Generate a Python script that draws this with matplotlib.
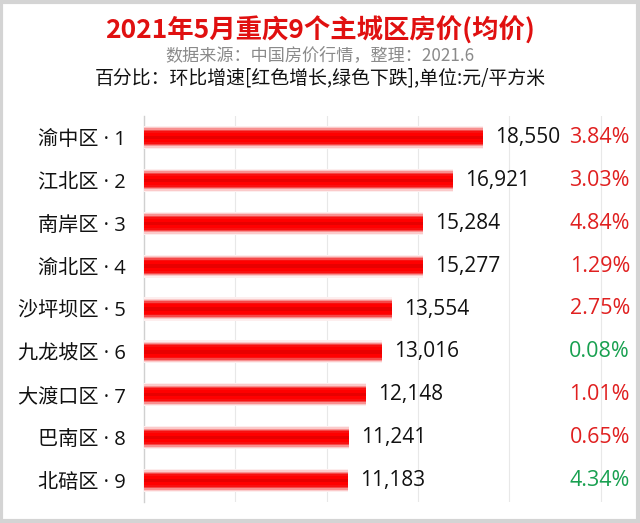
import matplotlib
matplotlib.use("Agg")
import matplotlib.pyplot as plt
import numpy as np
from matplotlib.patches import Rectangle

plt.rcParams['font.family'] = ['Noto Sans CJK SC', 'DejaVu Sans']

districts = ["渝中区", "江北区", "南岸区", "渝北区", "沙坪坝区", "九龙坡区", "大渡口区", "巴南区", "北碚区"]
prices = [18550, 16921, 15284, 15277, 13554, 13016, 12148, 11241, 11183]
changes = ["3.84%", "3.03%", "4.84%", "1.29%", "2.75%", "0.08%", "1.01%", "0.65%", "4.34%"]
change_up = [True, True, True, True, True, False, True, True, False]

title = "2021年5月重庆9个主城区房价(均价)"
subtitle = "数据来源：中国房价行情，整理：2021.6"
note = "百分比：环比增速[红色增长,绿色下跌],单位:元/平方米"

fig = plt.figure(figsize=(6.4, 5.23), dpi=100)
ax = fig.add_axes([144/640, 1-502/523, (632-144)/640, (502-116)/523])

n = len(districts)
ypos = np.arange(n)
xmax = (632-144)/((483-144)/18550)
ax.set_xlim(0, xmax)
ax.set_ylim(n-0.5, -0.5)

# glossy bar: stacked layers (cylinder-like gradient)
layers = [(0.54, "#fdeeee"), (0.48, "#fbcaca"), (0.42, "#f89090"), (0.36, "#f54848"),
          (0.30, "#f81010"), (0.22, "#ff0000"), (0.08, "#e80000")]
for y, v in zip(ypos, prices):
    for h, c in layers:
        ax.barh(y, v, height=h, left=0, color=c, linewidth=0, zorder=3)

num_font = ["Open Sans", "DejaVu Sans"]
for y, v in zip(ypos, prices):
    ax.text(v + 650, y, f"{v:,}", va="center", ha="left", fontsize=15,
            family=num_font, color="#111111", zorder=4)

for y, c, up in zip(ypos, changes, change_up):
    ax.text(1.0 - 2/488, y, c, transform=ax.get_yaxis_transform(), va="center", ha="right",
            fontsize=15.5, family=num_font,
            color="#e02020" if up else "#18a050", zorder=4)

ax.set_yticks(ypos)
ax.set_yticklabels([f"{d} · {i+1}" for i, d in enumerate(districts)], fontsize=14.5,
                   color="#111111", family=["Open Sans", "Noto Sans CJK SC"])
ax.tick_params(axis="y", length=0, pad=13)
ax.set_xticks(np.arange(5000, xmax, 5000))
ax.tick_params(axis="x", length=0, labelbottom=False)
ax.grid(axis="x", color="#e8e8e8", linewidth=0.8, zorder=0)
for s in ["top", "right", "bottom"]:
    ax.spines[s].set_visible(False)
ax.spines["left"].set_color("#d0d0d0")
ax.spines["left"].set_linewidth(1.0)

fig.text(0.5, 1-31/523, title, ha="center", va="center", fontsize=19, fontweight="bold", color="#e01010")
fig.text(0.5, 1-55/523, subtitle, ha="center", va="center", fontsize=12.3, color="#8a8a8a")
fig.text(0.5, 1-78/523, note, ha="center", va="center", fontsize=13.6, color="#111111")

fig.add_artist(Rectangle((0.002, 0.003), 0.995, 0.993, transform=fig.transFigure,
                         fill=False, edgecolor="#d4d4d4", linewidth=3))

fig.savefig("out.png", dpi=100, facecolor="white")
